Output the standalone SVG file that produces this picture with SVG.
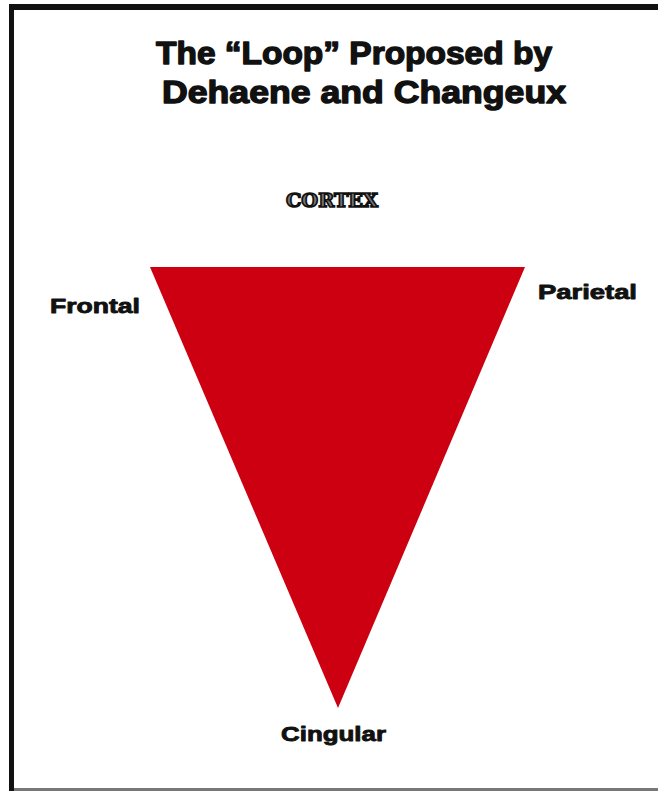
<svg xmlns="http://www.w3.org/2000/svg" width="658" height="791" viewBox="0 0 658 791">
<style>
.t{font-family:"Liberation Sans",Arial,sans-serif;font-weight:bold;fill:#111;stroke:#111;stroke-width:1.4;stroke-linejoin:round;}
.lbl{font-family:"Liberation Sans",Arial,sans-serif;font-weight:bold;font-size:21px;fill:#111;stroke:#111;stroke-width:0.9;stroke-linejoin:round;}
</style>
<rect x="0" y="0" width="658" height="791" fill="#fff"/>
<rect x="9" y="4" width="649" height="6" fill="#111"/>
<rect x="9" y="4" width="5" height="787" fill="#111"/>
<rect x="14" y="788" width="644" height="3" fill="#777"/>
<g id="title">
<text class="t" x="354" y="64" font-size="32" text-anchor="middle" textLength="396" lengthAdjust="spacingAndGlyphs">The “Loop” Proposed by</text>
<text class="t" x="364" y="103" font-size="32" text-anchor="middle" textLength="404" lengthAdjust="spacingAndGlyphs">Dehaene and Changeux</text>
</g>
<g id="cortex">
<text x="332" y="207" font-family="'DejaVu Serif','Liberation Serif',serif" font-weight="bold" font-size="18" text-anchor="middle" fill="#777" stroke="#111" stroke-width="1.6" textLength="92" lengthAdjust="spacingAndGlyphs">CORTEX</text>
</g>
<g id="triangle">
<polygon points="150,267 525,267 338,708" fill="#cc0010"/>
</g>
<g id="frontal"><text class="lbl" x="50" y="313" textLength="90" lengthAdjust="spacingAndGlyphs">Frontal</text></g>
<g id="parietal"><text class="lbl" x="538" y="299" textLength="99" lengthAdjust="spacingAndGlyphs">Parietal</text></g>
<g id="cingular"><text class="lbl" x="281" y="741" textLength="105" lengthAdjust="spacingAndGlyphs">Cingular</text></g>
<g id="connectors"></g>
</svg>
